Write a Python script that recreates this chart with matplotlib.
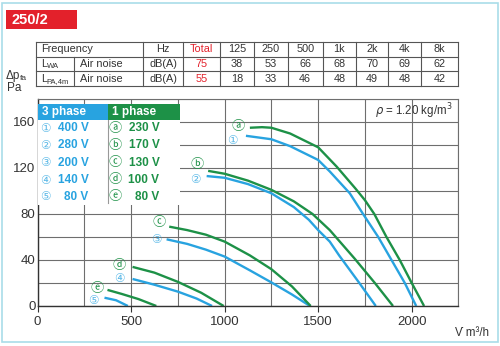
import matplotlib
matplotlib.use("Agg")
import matplotlib.pyplot as plt
from matplotlib.patches import Rectangle
from matplotlib.lines import Line2D

# ---------------- data ----------------
title = "250/2"
table_cols = ["Total", "125", "250", "500", "1k", "2k", "4k", "8k"]
lwa_values = [75, 38, 53, 66, 68, 70, 69, 62]
lpa_values = [55, 18, 33, 46, 48, 49, 48, 42]

# 3 phase (blue) curves
c1_x = [1114, 1250, 1350, 1500, 1562, 1669, 1740, 1821, 1892, 1963, 2024]
c1_y = [148, 145, 139, 127, 117, 98, 80, 60, 40, 20, 0]
c2_x = [904, 1000, 1125, 1250, 1370, 1450, 1500, 1562, 1612, 1720, 1808]
c2_y = [113, 111.5, 106, 98, 86, 75, 66, 56, 44, 20, 0]
c3_x = [690, 800, 900, 1000, 1135, 1250, 1360, 1456]
c3_y = [58, 54, 49, 43, 31, 20.5, 10, 0]
c4_x = [508, 625, 750, 850, 933]
c4_y = [23.5, 18.5, 12.5, 6.5, 0]
c5_x = [358, 420, 483]
c5_y = [7.2, 5, 0]

# 1 phase (green) curves
ca_x = [1135, 1200, 1250, 1350, 1500, 1600, 1700, 1750, 1800, 1865, 1936, 2000, 2066]
ca_y = [155, 155.5, 155, 150, 138, 121, 102, 92, 80, 60, 40, 20, 0]
cb_x = [912, 1000, 1125, 1250, 1370, 1470, 1562, 1696, 1803, 1900]
cb_y = [117.5, 115, 109, 101, 91, 80, 66, 41, 20, 0]
cc_x = [704, 800, 900, 1000, 1135, 1250, 1360, 1460]
cc_y = [69, 66, 62, 56, 44, 32, 17, 0]
cd_x = [508, 625, 750, 875, 995]
cd_y = [34, 29, 21, 11.5, 0]
ce_x = [374, 450, 540, 635]
ce_y = [14, 10.5, 6, 0]

three_phase_labels = ["\u2460", "\u2461", "\u2462", "\u2463", "\u2464"]
three_phase_volts = ["400 V", "280 V", "200 V", "140 V", "80 V"]
one_phase_labels = ["\u24d0", "\u24d1", "\u24d2", "\u24d3", "\u24d4"]
one_phase_volts = ["230 V", "170 V", "130 V", "100 V", "80 V"]

x_ticks = [0, 500, 1000, 1500, 2000]
y_ticks = [0, 40, 80, 120, 160]

# ---------------- style ----------------
BLUE = "#28a3e0"
GREEN = "#1d9147"
RED = "#e3212b"
GRID = "#6e6e6e"
TXT = "#333333"
NARROW = ["Liberation Sans Narrow", "Liberation Sans", "DejaVu Sans"]
REG = ["Liberation Sans", "DejaVu Sans"]
SYM = ["DejaVu Sans", "Noto Sans CJK JP"]
SYM_L = ["Noto Sans CJK JP", "DejaVu Sans"]

fig = plt.figure(figsize=(5.0, 3.46), dpi=100)
W, H = 500, 346

# main plot axes in pixel layout
L, R, T, B = 37.5, 458.5, 99, 306
ax = fig.add_axes([L / W, 1 - B / H, (R - L) / W, (B - T) / H])
ax.set_xlim(0, 2250)
ax.set_ylim(0, 180)
ax.set_xticks(x_ticks)
ax.set_xticks(range(0, 2251, 250), minor=True)
ax.set_yticks(y_ticks)
ax.set_yticks(range(0, 181, 20), minor=True)
ax.grid(True, which="both", color=GRID, lw=0.8)
ax.set_axisbelow(True)
ax.tick_params(axis="x", which="major", length=4, width=0.8, color=TXT, pad=3,
               labelsize=9.5, labelcolor=TXT)
ax.tick_params(axis="y", which="major", length=0, pad=1.5,
               labelsize=9.5, labelcolor=TXT)
ax.tick_params(which="minor", length=0)
for lab in ax.get_xticklabels() + ax.get_yticklabels():
    lab.set_family(REG)
for s in ["top", "right"]:
    ax.spines[s].set_color(GRID)
    ax.spines[s].set_linewidth(0.8)
for s in ["left", "bottom"]:
    ax.spines[s].set_color(TXT)
    ax.spines[s].set_linewidth(1.0)

blue_curves = [(c1_x, c1_y), (c2_x, c2_y), (c3_x, c3_y), (c4_x, c4_y), (c5_x, c5_y)]
green_curves = [(ca_x, ca_y), (cb_x, cb_y), (cc_x, cc_y), (cd_x, cd_y), (ce_x, ce_y)]
for xs, ys in blue_curves:
    ax.plot(xs, ys, color=BLUE, lw=1.7, solid_capstyle="butt")
for xs, ys in green_curves:
    ax.plot(xs, ys, color=GREEN, lw=1.7, solid_capstyle="butt")

# curve labels (offset in pixels from curve start)
blue_off = [(-14, -4.5), (-11, -3.5), (-10, -0.5), (-13, 0), (-11, -2.5)]
green_off = [(-12, 1.5), (-11, 6.5), (-10, 4), (-13, 1), (-10, 1)]
for (xs, ys), lab, off in zip(blue_curves, three_phase_labels, blue_off):
    ax.annotate(lab, (xs[0], ys[0]), xytext=off, textcoords="offset pixels",
                ha="center", va="center", fontsize=8.5, color=BLUE, family=SYM,
                alpha=0.75)
for (xs, ys), lab, off in zip(green_curves, one_phase_labels, green_off):
    ax.annotate(lab, (xs[0], ys[0]), xytext=off, textcoords="offset pixels",
                ha="center", va="center", fontsize=9.5, color=GREEN, family=SYM_L)

ax.text(0.985, 0.94, r"$\rho$ = 1.20 kg/m$^3$", transform=ax.transAxes,
        ha="right", va="center", fontsize=8.3, color=TXT, family=REG)

# ---------------- overlay in pixel coordinates ----------------
ov = fig.add_axes([0, 0, 1, 1])
ov.set_xlim(0, W)
ov.set_ylim(H, 0)
ov.axis("off")
ov.patch.set_alpha(0)

# outer border
ov.add_patch(Rectangle((1.5, 2.5), 496, 339, fill=False, ec="#a9dde9", lw=1.2))

# title box
ov.add_patch(Rectangle((6, 10), 71, 19, fc=RED, ec="none"))
ov.text(11, 19.8, title, color="white", fontsize=10.5, fontweight="bold",
        family=REG, ha="left", va="center")

# table
tcol = "#555555"
tlw = 0.8
rows_y = [41.7, 56.7, 71, 86]
col_x = [36, 142.7, 183.3, 220, 254, 287.7, 322.7, 356, 388.3, 421, 458.3]
for y in rows_y:
    ov.add_line(Line2D([col_x[0], col_x[-1]], [y, y], color=tcol, lw=tlw))
for x in col_x:
    ov.add_line(Line2D([x, x], [rows_y[0], rows_y[-1]], color=tcol, lw=tlw))
ov.add_line(Line2D([74, 74], [rows_y[1], rows_y[-1]], color=tcol, lw=tlw))

fs_t = 7.8
row_c = [(rows_y[i] + rows_y[i + 1]) / 2 for i in range(3)]
ov.text(41, row_c[0], "Frequency", fontsize=fs_t, color=TXT, family=NARROW,
        ha="left", va="center")
ov.text(41, row_c[1], "L", fontsize=fs_t, color=TXT, family=NARROW, ha="left", va="center")
ov.text(46.5, row_c[1] + 3, "WA", fontsize=5.5, color=TXT, family=NARROW, ha="left", va="center")
ov.text(41, row_c[2], "L", fontsize=fs_t, color=TXT, family=NARROW, ha="left", va="center")
ov.text(46.5, row_c[2] + 3, "PA,4m", fontsize=5.5, color=TXT, family=NARROW, ha="left", va="center")
ov.text(80, row_c[1], "Air noise", fontsize=fs_t, color=TXT, family=NARROW, ha="left", va="center")
ov.text(80, row_c[2], "Air noise", fontsize=fs_t, color=TXT, family=NARROW, ha="left", va="center")
hz_c = (col_x[1] + col_x[2]) / 2
ov.text(hz_c, row_c[0], "Hz", fontsize=fs_t, color=TXT, family=NARROW, ha="center", va="center")
ov.text(hz_c, row_c[1], "dB(A)", fontsize=fs_t, color=TXT, family=NARROW, ha="center", va="center")
ov.text(hz_c, row_c[2], "dB(A)", fontsize=fs_t, color=TXT, family=NARROW, ha="center", va="center")
for i, (hdr, v1, v2) in enumerate(zip(table_cols, lwa_values, lpa_values)):
    cx = (col_x[i + 2] + col_x[i + 3]) / 2
    c = RED if i == 0 else TXT
    ov.text(cx, row_c[0], hdr, fontsize=fs_t, color=c, family=NARROW, ha="center", va="center")
    ov.text(cx, row_c[1], str(v1), fontsize=fs_t, color=c, family=NARROW, ha="center", va="center")
    ov.text(cx, row_c[2], str(v2), fontsize=fs_t, color=c, family=NARROW, ha="center", va="center")

# y axis label
ov.text(6, 76, "\u0394p", fontsize=8.5, color=TXT, family=REG, ha="left", va="center")
ov.text(19.5, 79, "fa", fontsize=6, color=TXT, family=REG, ha="left", va="center")
ov.text(6.5, 88, "Pa", fontsize=8.5, color=TXT, family=REG, ha="left", va="center")

# x axis label
ov.text(489, 333, "V\u0307 m\u00b3/h", fontsize=8.3, color=TXT, family=REG,
        ha="right", va="center")

# legend box
ov.add_patch(Rectangle((37.5, 120), 142.5, 85, fc="white", ec="none"))
ov.add_patch(Rectangle((37.5, 104.3), 70.5, 15.7, fc=BLUE, ec="none"))
ov.add_patch(Rectangle((108, 104.3), 72, 15.7, fc=GREEN, ec="none"))
ov.add_line(Line2D([108, 108], [120, 203], color="#999999", lw=0.8))
ov.text(41.5, 112.3, "3 phase", color="white", fontsize=8.5, fontweight="bold",
        family=NARROW, ha="left", va="center")
ov.text(111.5, 112.3, "1 phase", color="white", fontsize=8.5, fontweight="bold",
        family=NARROW, ha="left", va="center")
leg_y = [128.3, 145.5, 162.7, 180, 196.8]
for y, s1, v1, s2, v2 in zip(leg_y, three_phase_labels, three_phase_volts,
                             one_phase_labels, one_phase_volts):
    ov.text(45.7, y, s1, color=BLUE, fontsize=8.5, family=SYM, ha="center",
            va="center", alpha=0.75)
    ov.text(88.5, y, v1, color=BLUE, fontsize=8.5, fontweight="bold",
            family=NARROW, ha="right", va="center")
    ov.text(115, y, s2, color=GREEN, fontsize=9.5, family=SYM_L, ha="center", va="center")
    ov.text(159.5, y, v2, color=GREEN, fontsize=8.5, fontweight="bold",
            family=NARROW, ha="right", va="center")

fig.savefig("out.png", dpi=100)
